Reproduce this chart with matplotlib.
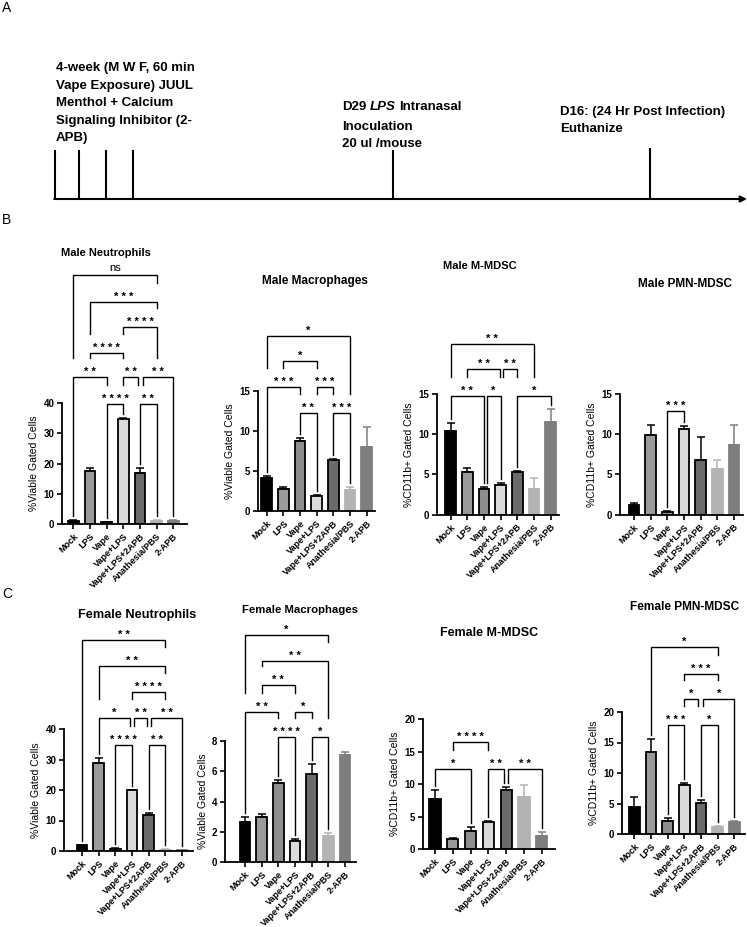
import numpy as np
import matplotlib.pyplot as plt

plt.rcParams['font.family'] = ['Liberation Sans', 'DejaVu Sans']
plt.rcParams['font.weight'] = 'bold'

W, H = 747, 927  # figure size in pixels at dpi 100

groups = ['Mock', 'LPS', 'Vape', 'Vape+LPS', 'Vape+LPS+2APB', 'Anathesia/PBS', '2-APB']
fills = ['#000000', '#9a9a9a', '#8e8e8e', '#dadada', '#6b6b6b', '#b3b3b3', '#7e7e7e']
edges = ['black', 'black', 'black', 'black', 'black', '#b3b3b3', '#7e7e7e']

# --- B: male ---
male_neut = [1.0, 17.6, 0.7, 34.6, 16.9, 1.1, 1.1]
male_neut_err = [0.2, 0.8, 0.1, 0.5, 1.6, 0.2, 0.2]
male_neut_sig = [(0, 5, 82.3, 'ns'), (1, 5, 73.4, '***'), (3, 5, 65.1, '****'),
                 (1, 3, 56.5, '****'), (0, 2, 48.6, '**'), (3, 3.88, 48.6, '**'),
                 (4.16, 6, 48.6, '**'), (2, 3, 39.7, '****'), (4, 5, 39.7, '**')]

male_mac = [4.15, 2.75, 8.8, 1.85, 6.35, 2.65, 8.0]
male_mac_err = [0.2, 0.25, 0.3, 0.1, 0.15, 0.3, 2.5]
male_mac_sig = [(0, 5, 21.9, '*'), (1, 3, 18.75, '*'), (0, 2, 15.5, '***'),
                (3, 4, 15.5, '***'), (2, 3, 12.3, '**'), (4, 5, 12.3, '***')]

male_mmdsc = [10.45, 5.35, 3.15, 3.7, 5.25, 3.2, 11.5]
male_mmdsc_err = [0.95, 0.4, 0.25, 0.3, 0.12, 1.3, 1.6]
male_mmdsc_sig = [(0, 5, 21.2, '**'), (1, 2.95, 18.1, '**'), (3.12, 4, 18.1, '**'),
                  (0, 2, 14.8, '**'), (2.15, 3, 14.8, '*'), (4, 6, 14.8, '*')]

male_pmn = [1.17, 9.9, 0.3, 10.6, 6.85, 5.7, 8.6]
male_pmn_err = [0.3, 1.2, 0.2, 0.4, 2.75, 1.05, 2.6]
male_pmn_sig = [(2, 3, 12.9, '***')]

# --- C: female ---
fem_neut = [1.9, 28.8, 0.8, 19.9, 11.8, 0.4, 0.25]
fem_neut_err = [0.2, 1.6, 0.2, 0.2, 0.5, 0.1, 0.05]
fem_neut_sig = [(0, 5, 69.2, '**'), (1, 5, 60.7, '**'), (3, 5, 52.0, '****'),
                (1, 2.86, 43.5, '*'), (3.14, 3.88, 43.5, '**'), (4.16, 6, 43.5, '**'),
                (2, 3, 34.8, '****'), (4, 5, 34.8, '**')]

fem_mac = [2.65, 3.0, 5.2, 1.4, 5.8, 1.7, 7.1]
fem_mac_err = [0.3, 0.2, 0.2, 0.15, 0.7, 0.25, 0.15]
fem_mac_sig = [(0, 5, 15.0, '*'), (1, 5, 13.3, '**'), (1, 3, 11.7, '**'),
               (0, 2, 9.95, '**'), (3, 4, 9.95, '*'), (2, 3, 8.26, '****'), (4, 5, 8.26, '*')]

fem_mmdsc = [7.7, 1.6, 2.8, 4.2, 9.1, 8.1, 2.0]
fem_mmdsc_err = [1.4, 0.2, 0.65, 0.1, 0.4, 1.7, 0.6]
fem_mmdsc_sig = [(1, 3, 16.4, '****'), (0, 2, 12.3, '*'), (3, 3.85, 12.3, '**'),
                 (4.12, 6, 12.3, '**')]

fem_pmn = [4.5, 13.4, 2.2, 8.0, 5.05, 1.2, 1.9]
fem_pmn_err = [1.6, 2.1, 0.35, 0.3, 0.55, 0.1, 0.2]
fem_pmn_sig = [(1, 5, 30.6, '*'), (3, 5, 26.3, '***'), (3, 3.85, 22.1, '*'),
               (4.15, 6, 22.1, '*'), (2, 3, 17.9, '***'), (4, 5, 17.9, '*')]

fig = plt.figure(figsize=(W / 100, H / 100), dpi=100)

# overlay in pixel coordinates for schematic and titles
ov = fig.add_axes([0, 0, 1, 1])
ov.set_xlim(0, W)
ov.set_ylim(H, 0)
ov.axis('off')


def panel(mean, err, sig, ymax, ystep, ylabel, title, tx, ty, tfs, L, R, y0, ytop, m0, step):
    ax = fig.add_axes([L / W, 1 - y0 / H, (R - L) / W, (y0 - ytop) / H])
    ax.patch.set_alpha(0)
    x = np.arange(len(groups))
    mean = np.asarray(mean)
    err = np.asarray(err)
    for xi, m, e, c in zip(x, mean, err, edges):
        ax.errorbar(xi, m, yerr=[[0], [e]], fmt='none', ecolor=c,
                    elinewidth=1.1, capsize=3, capthick=1.1, zorder=1)
    ax.bar(x, mean, 0.64, color=fills, edgecolor=edges, linewidth=1.3, zorder=2)
    ax.set_xlim((L - m0) / step, (R - m0) / step)
    ax.set_ylim(0, ymax)
    ax.set_yticks(np.arange(0, ymax + 0.01, ystep))
    ax.set_xticks(x)
    ax.set_xticklabels(groups, rotation=45, ha='right', rotation_mode='anchor')
    ax.tick_params(axis='both', length=3.5, width=1.2, labelsize=7, pad=2)
    ax.tick_params(axis='x', labelsize=6.5)
    for s in ['top', 'right']:
        ax.spines[s].set_visible(False)
    for s in ['left', 'bottom']:
        ax.spines[s].set_linewidth(1.3)
    ax.set_ylabel(ylabel, fontsize=7.5, labelpad=3)

    # significance brackets
    pxper = (y0 - ytop) / ymax
    tops = mean + err
    for a, b, h, lab in sig:
        ends = []
        for xe in (a, b):
            below = [s[2] for s in sig if s[2] < h - 1e-6 and s[0] - 0.2 <= xe <= s[1] + 0.2]
            if below:
                ends.append(max(below) + 19 / pxper)
            else:
                ends.append(tops[int(round(xe))] + 4 / pxper)
        ax.plot([a, a, b, b], [ends[0], h, h, ends[1]], color='black', lw=1.0,
                clip_on=False, solid_joinstyle='miter')
        txt = lab if lab == 'ns' else ' '.join(lab)
        ax.text((a + b) / 2, h + (4 if lab == 'ns' else 2) / pxper, txt, ha='center',
                va='baseline', fontsize=8, fontweight='normal' if lab == 'ns' else 'bold',
                clip_on=False)

    ov.text(tx, ty, title, ha='center', va='center', fontsize=tfs)
    return ax


via = '%Viable Gated Cells'
cd = '%CD11b+ Gated Cells'
panel(male_neut, male_neut_err, male_neut_sig, 40, 10, via, 'Male Neutrophils', 106, 253, 8,
      62, 187, 524, 403, 73.3, 16.67)
panel(male_mac, male_mac_err, male_mac_sig, 15, 5, via, 'Male Macrophages', 315, 281, 8.5,
      258, 375, 511, 391, 266.7, 16.67)
panel(male_mmdsc, male_mmdsc_err, male_mmdsc_sig, 15, 5, cd, 'Male M-MDSC', 480, 266, 8,
      437, 559, 514.7, 394, 450.7, 16.67)
panel(male_pmn, male_pmn_err, male_pmn_sig, 15, 5, cd, 'Male PMN-MDSC', 685, 284, 8.5,
      620, 743, 514.7, 394, 634, 16.67)
panel(fem_neut, fem_neut_err, fem_neut_sig, 40, 10, via, 'Female Neutrophils', 137, 615, 9.2,
      64, 193, 851, 729, 82, 16.67)
panel(fem_mac, fem_mac_err, fem_mac_sig, 8, 2, via, 'Female Macrophages', 300, 610, 8.2,
      225, 356, 862, 741, 245, 16.67)
panel(fem_mmdsc, fem_mmdsc_err, fem_mmdsc_sig, 20, 5, cd, 'Female M-MDSC', 489, 633, 9,
      423, 555, 849.3, 719, 435, 17.8)
panel(fem_pmn, fem_pmn_err, fem_pmn_sig, 20, 5, cd, 'Female PMN-MDSC', 685, 607, 8.6,
      622, 745, 834, 712, 634.3, 16.67)

# --- A: timeline schematic ---
ov.annotate('', xy=(747, 199), xytext=(54.3, 199),
            arrowprops=dict(arrowstyle='-|>', lw=1.5, color='black', mutation_scale=9,
                            shrinkA=0, shrinkB=0))
for tx, top in [(55, 150), (79, 150), (106, 150), (133, 150), (393, 150), (650, 148)]:
    ov.plot([tx, tx], [top, 199.7], color='black', lw=1.5, solid_capstyle='butt')

fs = 9.5
lines_a = ['4-week (M W F, 60 min', 'Vape Exposure) JUUL', 'Menthol + Calcium',
           'Signaling Inhibitor (2-', 'APB)']
for i, s in enumerate(lines_a):
    ov.text(56, 71 + 17.5 * i, s, fontsize=fs, va='baseline')

t0 = ov.text(342, 112.7, 'D29', fontsize=fs, va='bottom')
t1 = ov.annotate('LPS', xy=(1, 0), xycoords=t0, xytext=(2.6, 0), textcoords='offset points',
                 fontsize=fs, style='italic', va='bottom')
ov.annotate('Intranasal', xy=(1, 0), xycoords=t1, xytext=(2.6, 0), textcoords='offset points',
            fontsize=fs, va='bottom')
ov.text(342, 130, 'Inoculation', fontsize=fs, va='baseline')
ov.text(342, 147.3, '20 ul /mouse', fontsize=fs, va='baseline')

ov.text(560, 115, 'D16: (24 Hr Post Infection)', fontsize=fs, va='baseline')
ov.text(560, 132.3, 'Euthanize', fontsize=fs, va='baseline')

for lab, y in [('A', 12), ('B', 224), ('C', 598)]:
    ov.text(2, y, lab, fontsize=10, fontweight='normal', va='baseline')

fig.savefig('out.png', dpi=100)
